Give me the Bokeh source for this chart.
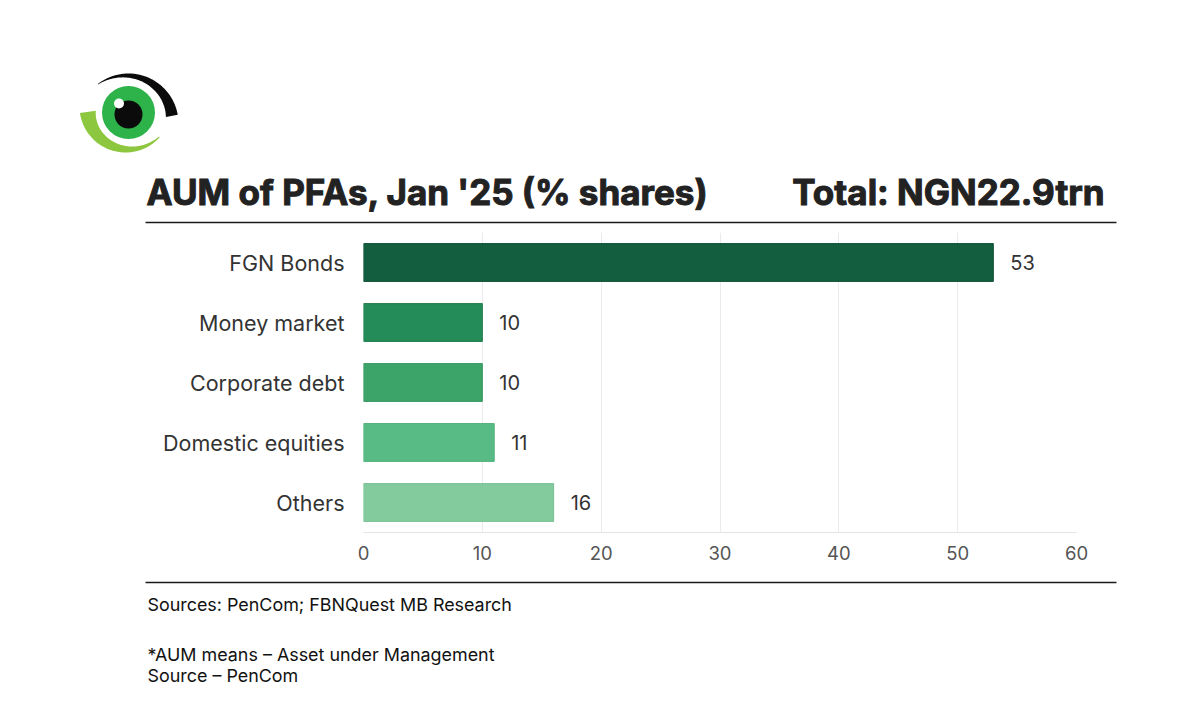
import numpy as np
from bokeh.plotting import figure
from bokeh.models import Range1d, ColumnDataSource, FixedTicker
from bokeh.core.properties import value
from bokeh.embed import file_html
from bokeh.resources import INLINE

# ---- data ----
categories = ["FGN Bonds", "Money market", "Corporate debt", "Domestic equities", "Others"]
shares = [53, 10, 10, 11, 16]
bar_colors = ["#135E3E", "#248C58", "#3DA469", "#58BB85", "#83CB9D"]
bar_lines = ["#0E4E33", "#1E7A4C", "#36985F", "#4FB07A", "#78C194"]
x_ticks = [0, 10, 20, 30, 40, 50, 60]
title_text = "AUM of PFAs, Jan '25 (% shares)"
total_text = "Total: NGN22.9trn"
footer_lines = ["Sources: PenCom; FBNQuest MB Research",
                "*AUM means \u2013 Asset under Management",
                "Source \u2013 PenCom"]

FONT = "Inter"
W = 1200
TOP_H, CH_H, BOT_H = 228, 342, 150
FL, FR, FT, FB = 363, 1076, 232, 532   # chart frame edges in page pixels


def blank(h, y0):
    f = figure(width=W, height=h, x_range=Range1d(0, W), y_range=Range1d(y0 + h, y0),
               x_axis_type=None, y_axis_type=None, output_backend="svg",
               toolbar_location=None, min_border=0)
    f.outline_line_color = None
    f.grid.visible = False
    return f


# ---- header: logo + title ----
top = blank(TOP_H, 0)


def crescent(cx, cy, r_out, r_in0, r_in1, t0, t1, k=80):
    t = np.radians(np.linspace(t0, t1, k))
    rin = np.linspace(r_in0, r_in1, k)
    xo = cx + r_out * np.cos(t); yo = cy - r_out * np.sin(t)
    xi = cx + rin[::-1] * np.cos(t[::-1]); yi = cy - rin[::-1] * np.sin(t[::-1])
    return list(np.concatenate([xo, xi])), list(np.concatenate([yo, yi]))


bx, by = crescent(128, 123, 50, 38, 49.5, 10, 128)
top.patch(bx, by, fill_color="#0b0b0b", line_color=None)
gx, gy = crescent(125, 106, 46, 30, 45, 188, 318)
top.patch(gx, gy, fill_color="#8DC63F", line_color=None)
top.circle(x=[128], y=[112], radius=26.5, fill_color="#2DB34A", line_color=None)
top.circle(x=[128], y=[114], radius=14, fill_color="#0b0b0b", line_color=None)
top.circle(x=[118.5], y=[103], radius=5, fill_color="#ffffff", line_color=None)

top.text(x=[146, 1104], y=[191, 191], text=[title_text, total_text],
         text_align=["left", "right"], text_font=value(FONT), text_font_style="bold",
         text_font_size="35px", text_color="#222222", text_outline_color="#222222",
         text_baseline="alphabetic")
top.segment(x0=[145], y0=[222], x1=[1116], y1=[222], line_color="#1a1a1a", line_width=1.5)

# ---- chart ----
n = len(categories)
rows = [n - 1 - i for i in range(n)]   # first category at the top
src = ColumnDataSource(dict(row=rows, val=shares, color=bar_colors, line=bar_lines,
                            lab=[str(v) for v in shares]))
p = figure(width=W, height=CH_H, y_range=Range1d(-0.5, n - 0.5),
           x_range=Range1d(0, 60), output_backend="svg", toolbar_location=None,
           min_border_left=FL, min_border_right=W - FR, min_border_top=FT - TOP_H,
           min_border_bottom=TOP_H + CH_H - FB)
p.hbar(y="row", right="val", height=0.63, fill_color="color", line_color="line", line_width=1,
       source=src)
p.text(x="val", y="row", text="lab", source=src, x_offset=17, text_baseline="middle",
       text_align="left", text_font=value(FONT), text_font_size="20px", text_color="#333333")
p.outline_line_color = None
p.ygrid.grid_line_color = None
p.xgrid.grid_line_color = "#ebebeb"
p.xaxis.ticker = FixedTicker(ticks=x_ticks)
p.xaxis.axis_line_color = "#e3e3e3"
p.xaxis.major_tick_line_color = None
p.xaxis.minor_tick_line_color = None
p.xaxis.major_label_text_font = FONT
p.xaxis.major_label_text_font_size = "18.5px"
p.xaxis.major_label_text_color = "#555555"
p.xaxis.major_label_standoff = 7
p.yaxis.ticker = FixedTicker(ticks=rows)
p.yaxis.major_label_overrides = {r: c for r, c in zip(rows, categories)}
p.yaxis.axis_line_color = None
p.yaxis.major_tick_line_color = None
p.yaxis.minor_tick_line_color = None
p.yaxis.major_label_text_font = FONT
p.yaxis.major_label_text_font_size = "21.5px"
p.yaxis.major_label_text_color = "#333333"
p.yaxis.major_label_standoff = 13

# ---- footer ----
bot = blank(BOT_H, TOP_H + CH_H)
bot.segment(x0=[145], y0=[582], x1=[1116], y1=[582], line_color="#1a1a1a", line_width=1.5)
bot.text(x=[147, 147, 147], y=[604, 654, 675], text=footer_lines, text_font=value(FONT),
         text_font_size="17.9px", text_color="#111111", text_baseline="middle",
         text_align="left")

open("out.html", "w").write(file_html([top, p, bot], INLINE))
